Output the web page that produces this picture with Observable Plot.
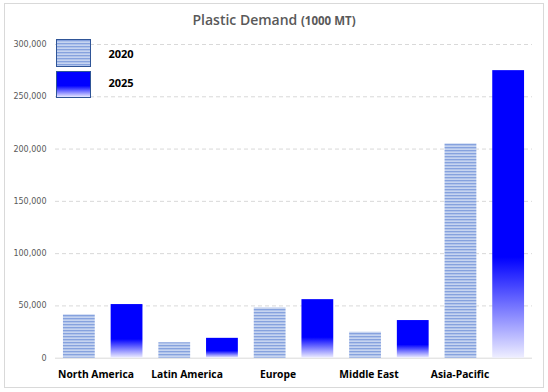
<!DOCTYPE html>
<html>
<head>
<meta charset="utf-8">
<script src="https://cdn.jsdelivr.net/npm/d3@7"></script>
<script src="https://cdn.jsdelivr.net/npm/@observablehq/plot@0.6"></script>
<style>
html,body{margin:0;padding:0;background:#fff;}
#wrap{position:relative;width:548px;height:392px;overflow:hidden;font-family:"Open Sans",sans-serif;}
#wrap svg{position:absolute;left:0;top:0;}
.frame{position:absolute;left:4px;top:3px;width:540px;height:385px;border:1px solid #d9d9d9;box-sizing:border-box;pointer-events:none;}
.title{position:absolute;left:0;top:13px;width:548px;text-align:center;font-size:14px;line-height:14px;font-weight:600;color:#595959;white-space:nowrap;}
.title span{font-size:11.5px;font-weight:700;}
.sw{position:absolute;left:56px;width:35px;box-sizing:border-box;border:1px solid #2f5597;}
.s20{top:39px;height:28px;background:repeating-linear-gradient(to bottom,#86a2de 0px,#86a2de 1px,#b0c3ea 1px,#b0c3ea 2px,#c6d4f0 2px,#c6d4f0 3px);}
.s25{top:70.5px;height:27px;background:linear-gradient(to bottom,#0000ff 0%,#0000ff 55%,#e8e8ff 100%);}
.lt{position:absolute;left:108.5px;font-size:11px;line-height:11px;font-weight:700;color:#000;}
</style>
</head>
<body>
<div id="wrap"></div>
<script>
const regions = ["North America", "Latin America", "Europe", "Middle East", "Asia-Pacific"];
const years = ["2020", "2025"];
const values2020 = [41500, 14800, 48000, 24800, 205000];
const values2025 = [51300, 19000, 56000, 36000, 275000];
const yTicks = [0, 50000, 100000, 150000, 200000, 250000, 300000];
const titleMain = "Plastic Demand";
const titleUnit = "(1000 MT)";

const rows = [];
regions.forEach((r, i) => {
  rows.push({region: r, year: years[0], value: values2020[i]});
  rows.push({region: r, year: years[1], value: values2025[i]});
});
const keyOf = d => d.region + "|" + d.year;
const keys = rows.map(keyOf);

const main = Plot.plot({
  width: 548, height: 392,
  marginTop: 44, marginBottom: 34.3, marginLeft: 55, marginRight: 16,
  style: {background: "transparent", overflow: "visible"},
  x: {type: "band", domain: keys, paddingInner: 1/3, paddingOuter: 1/6, round: false, axis: null},
  y: {domain: [0, 300000], axis: null},
  marks: [
    Plot.gridY(yTicks.filter(t => t > 0), {stroke: "#d9d9d9", strokeOpacity: 1, strokeDasharray: "4,3"}),
    Plot.ruleY([0], {stroke: "#d9d9d9", strokeOpacity: 1}),
    Plot.barY(rows.filter(d => d.year === years[0]), {x: keyOf, y: "value", fill: "url(#p2020)"}),
    Plot.barY(rows.filter(d => d.year === years[1]), {x: keyOf, y: "value", fill: "url(#g2025)"}),
    Plot.axisY(yTicks, {label: null, tickFormat: d3.format(","), tickSize: 0, tickPadding: 9, fill: "#595959", fontSize: 8, fontFamily: "DejaVu Sans"})
  ]
});

const s = d3.select(main);
const defs = s.insert("defs", ":first-child");
const p = defs.append("pattern").attr("id", "p2020").attr("patternUnits", "userSpaceOnUse").attr("width", 4).attr("height", 3);
p.append("rect").attr("width", 4).attr("height", 3).attr("fill", "#b0c3ea");
p.append("rect").attr("width", 4).attr("height", 1).attr("fill", "#86a2de");
p.append("rect").attr("y", 2).attr("width", 4).attr("height", 1).attr("fill", "#c6d4f0");
const g = defs.append("linearGradient").attr("id", "g2025").attr("x1", 0).attr("y1", 0).attr("x2", 0).attr("y2", 1);
g.append("stop").attr("offset", "0%").attr("stop-color", "#0000ff");
g.append("stop").attr("offset", "65%").attr("stop-color", "#0000ff");
g.append("stop").attr("offset", "100%").attr("stop-color", "#eeeeff");

const labels = Plot.plot({
  width: 548, height: 392,
  marginTop: 0, marginLeft: 0, marginRight: 0, marginBottom: 18,
  style: {background: "transparent", overflow: "visible"},
  x: {type: "band", domain: regions, range: [48, 506], padding: 0, axis: null},
  marks: [
    Plot.text(regions, {x: d => d, frameAnchor: "bottom", lineAnchor: "middle", fill: "#000", fontWeight: "bold", fontSize: 10.3, fontFamily: "Open Sans"})
  ]
});

const wrap = document.getElementById("wrap");
wrap.appendChild(main);
wrap.appendChild(labels);

const frame = document.createElement("div");
frame.className = "frame";
wrap.appendChild(frame);

const t = document.createElement("div");
t.className = "title";
t.textContent = titleMain + " ";
const u = document.createElement("span");
u.textContent = titleUnit;
t.appendChild(u);
wrap.appendChild(t);

[["s20", years[0], 47.5], ["s25", years[1], 76.9]].forEach(([cls, label, top]) => {
  const sw = document.createElement("div");
  sw.className = "sw " + cls;
  wrap.appendChild(sw);
  const lt = document.createElement("div");
  lt.className = "lt";
  lt.style.top = top + "px";
  lt.textContent = label;
  wrap.appendChild(lt);
});
</script>
</body>
</html>
